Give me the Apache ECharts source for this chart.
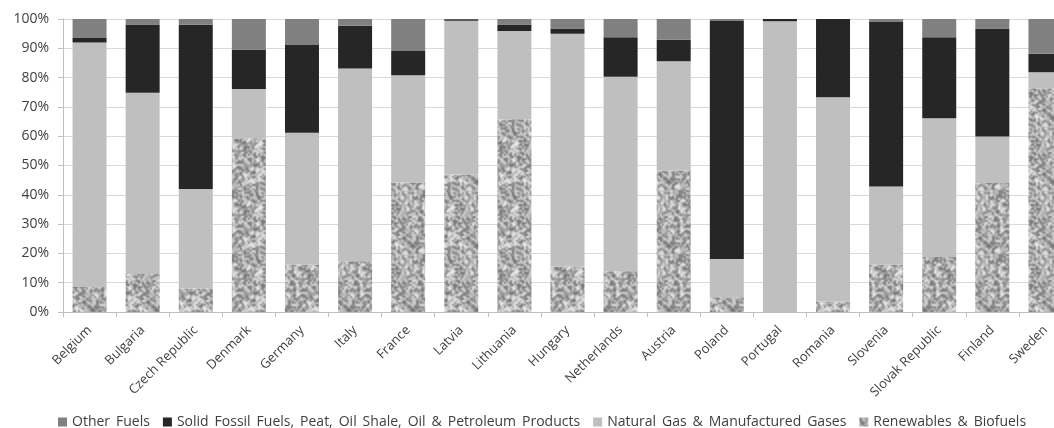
<!DOCTYPE html>
<html>
<head>
<meta charset="utf-8">
<script src="https://cdn.jsdelivr.net/npm/echarts@6/dist/echarts.min.js"></script>
<style>
  html, body { margin: 0; padding: 0; background: #fff; }
  #chart { width: 1054px; height: 428px; }
</style>
</head>
<body>
<div id="chart"></div>
<script>
// Fuel mix shares by country (% of total)
const countries = ['Belgium', 'Bulgaria', 'Czech Republic', 'Denmark', 'Germany', 'Italy', 'France',
  'Latvia', 'Lithuania', 'Hungary', 'Netherlands', 'Austria', 'Poland', 'Portugal', 'Romania',
  'Slovenia', 'Slovak Republic', 'Finland', 'Sweden'];
const renewables = [8.5, 13.0, 8.0, 59.3, 16.2, 17.3, 44.2, 46.9, 65.8, 15.5, 13.9, 48.3, 5.0, 0.0, 3.6, 16.1, 18.8, 44.0, 76.4];
const naturalGas = [83.5, 61.8, 34.0, 16.8, 45.0, 65.8, 36.6, 52.5, 30.1, 79.5, 66.4, 37.3, 13.1, 99.2, 69.7, 26.7, 47.3, 15.9, 5.4];
const solidFossil = [1.5, 23.3, 56.0, 13.5, 29.9, 14.6, 8.3, 0.5, 2.2, 1.8, 13.5, 7.3, 81.2, 0.8, 26.7, 56.2, 27.7, 36.9, 6.3];
const otherFuels = [6.5, 1.9, 2.0, 10.4, 8.9, 2.3, 10.9, 0.1, 1.9, 3.2, 6.2, 7.1, 0.7, 0.0, 0.0, 1.0, 6.2, 3.2, 11.9];
const yTicks = [0, 10, 20, 30, 40, 50, 60, 70, 80, 90, 100];

// Soft speckled grey texture used for the renewables fill (seeded noise, box-blurred, tiling)
function speckle() {
  const n = 64;
  let s = 20240611;
  const rnd = () => { s = (s * 1103515245 + 12345) & 0x7fffffff; return s / 0x7fffffff; };
  const cell = [];
  for (let i = 0; i < (n / 2) * (n / 2); i++) cell.push(100 + rnd() * 145);
  const at = (x, y) => cell[(((y + n) % n) >> 1) * (n / 2) + (((x + n) % n) >> 1)];
  const c = document.createElement('canvas');
  c.width = n; c.height = n;
  const g = c.getContext('2d');
  const img = g.createImageData(n, n);
  for (let y = 0; y < n; y++) {
    for (let x = 0; x < n; x++) {
      let sum = 0;
      for (let dy = -1; dy <= 1; dy++) for (let dx = -1; dx <= 1; dx++) sum += at(x + dx, y + dy) * (dx === 0 && dy === 0 ? 2 : 1);
      const v = Math.round(sum / 10);
      const k = (y * n + x) * 4;
      img.data[k] = img.data[k + 1] = img.data[k + 2] = v;
      img.data[k + 3] = 255;
    }
  }
  g.putImageData(img, 0, 0);
  return c;
}

const font = '"Open Sans", sans-serif';
const chart = echarts.init(document.getElementById('chart'));
const bar = (name, data, color) => ({
  name, type: 'bar', stack: 'mix', data, barWidth: 34,
  itemStyle: { color }, emphasis: { disabled: true }
});

chart.setOption({
  animation: false,
  legend: {
    top: 410, left: 53,
    data: ['Other Fuels', 'Solid Fossil Fuels, Peat, Oil Shale, Oil & Petroleum Products',
      'Natural Gas & Manufactured Gases', 'Renewables & Biofuels'],
    icon: 'rect', itemWidth: 9, itemHeight: 9, itemGap: 13,
    // legend entries use slightly wider word spacing
    formatter: name => name.replace(/ /g, ' \u2009'),
    textStyle: { fontFamily: font, fontSize: 14, color: '#404040' }
  },
  grid: { left: 63, top: 19, width: 1009, height: 293, containLabel: false, outerBoundsMode: 'none' },
  xAxis: {
    type: 'category', data: countries,
    axisLine: { lineStyle: { color: '#bfbfbf' } },
    axisTick: { show: true, length: 5, lineStyle: { color: '#bfbfbf' } },
    axisLabel: { rotate: 45, interval: 0, fontFamily: font, fontSize: 13, color: '#404040', margin: 16 }
  },
  yAxis: {
    type: 'value', min: yTicks[0], max: yTicks[yTicks.length - 1], interval: 10,
    axisLine: { show: true, lineStyle: { color: '#bfbfbf' } },
    axisTick: { show: true, length: 5, lineStyle: { color: '#bfbfbf' } },
    splitLine: { lineStyle: { color: '#d9d9d9' } },
    axisLabel: { formatter: '{value}%', fontFamily: font, fontSize: 14, color: '#404040', margin: 14 }
  },
  series: [
    bar('Renewables & Biofuels', renewables, { image: speckle(), repeat: 'repeat' }),
    bar('Natural Gas & Manufactured Gases', naturalGas, '#bfbfbf'),
    bar('Solid Fossil Fuels, Peat, Oil Shale, Oil & Petroleum Products', solidFossil, '#262626'),
    bar('Other Fuels', otherFuels, '#808080')
  ]
});
</script>
</body>
</html>
